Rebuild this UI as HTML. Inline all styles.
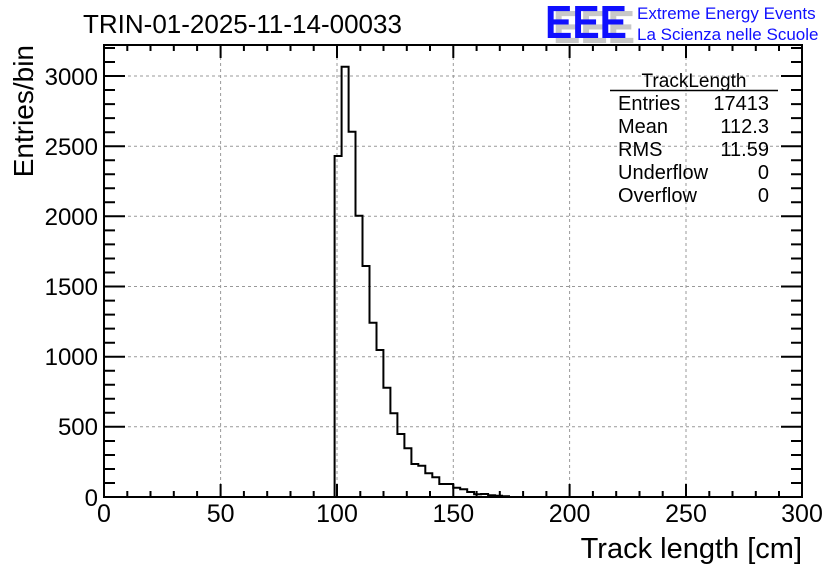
<!DOCTYPE html>
<html><head><meta charset="utf-8"><style>
html,body{margin:0;padding:0;background:#fff;}
svg{display:block;font-family:"Liberation Sans",sans-serif;}
</style></head><body>
<svg width="836" height="572" viewBox="0 0 836 572" xmlns="http://www.w3.org/2000/svg">
<rect width="836" height="572" fill="#fff"/>
<g stroke="#999" stroke-width="1" stroke-dasharray="3,3">
<line x1="220.6" y1="45" x2="220.6" y2="497"/>
<line x1="337" y1="45" x2="337" y2="497"/>
<line x1="453.3" y1="45" x2="453.3" y2="497"/>
<line x1="569.6" y1="45" x2="569.6" y2="497"/>
<line x1="686" y1="45" x2="686" y2="497"/>
<line x1="104" y1="76" x2="802" y2="76"/>
<line x1="104" y1="146.2" x2="802" y2="146.2"/>
<line x1="104" y1="216.3" x2="802" y2="216.3"/>
<line x1="104" y1="286.5" x2="802" y2="286.5"/>
<line x1="104" y1="356.7" x2="802" y2="356.7"/>
<line x1="104" y1="426.8" x2="802" y2="426.8"/>
</g>
<path fill="none" stroke="#000" stroke-width="2" d="M104,497 H334.6 V156 H341.6 V66.7 H348.6 V131.7 H355.5 V215.7 H362.5 V266 H369.5 V322.7 H376.5 V350 H383.4 V387.7 H390.4 V413.3 H397.4 V434 H404.4 V448.3 H411.4 V464 H418.3 V465.7 H425.3 V473.3 H432.3 V477.3 H439.3 V484 H453.2 V487.7 H460.2 V489.3 H467.2 V492 H474.1 V494.3 H481.1 V494 H488.1 V495.3 H495.1 V495.7 H502 V496.3 H509 V497 H802"/>
<rect x="104" y="45" width="698" height="452" fill="none" stroke="#000" stroke-width="2"/>
<g stroke="#000" stroke-width="2">
<path d="M104,497v-13M220.6,497v-13M337,497v-13M453.3,497v-13M569.6,497v-13M686,497v-13M802,497v-13
M104,45v13M220.6,45v13M337,45v13M453.3,45v13M569.6,45v13M686,45v13M802,45v13
M127.3,497v-6M150.5,497v-6M173.8,497v-6M197.1,497v-6M243.9,497v-6M267.2,497v-6M290.5,497v-6M313.7,497v-6M360.3,497v-6M383.5,497v-6M406.8,497v-6M430,497v-6M476.6,497v-6M499.8,497v-6M523.1,497v-6M546.4,497v-6M592.9,497v-6M616.2,497v-6M639.5,497v-6M662.7,497v-6M709.3,497v-6M732.5,497v-6M755.8,497v-6M779,497v-6
M127.3,45v6M150.5,45v6M173.8,45v6M197.1,45v6M243.9,45v6M267.2,45v6M290.5,45v6M313.7,45v6M360.3,45v6M383.5,45v6M406.8,45v6M430,45v6M476.6,45v6M499.8,45v6M523.1,45v6M546.4,45v6M592.9,45v6M616.2,45v6M639.5,45v6M662.7,45v6M709.3,45v6M732.5,45v6M755.8,45v6M779,45v6
M104,76h21M104,146.2h21M104,216.3h21M104,286.5h21M104,356.7h21M104,426.8h21
M802,76h-21M802,146.2h-21M802,216.3h-21M802,286.5h-21M802,356.7h-21M802,426.8h-21
M104,483h11M104,469h11M104,455h11M104,441h11M104,412.8h11M104,398.8h11M104,384.8h11M104,370.7h11M104,342.7h11M104,328.6h11M104,314.6h11M104,300.6h11M104,272.5h11M104,258.5h11M104,244.4h11M104,230.4h11M104,202.3h11M104,188.3h11M104,174.3h11M104,160.2h11M104,132.2h11M104,118.1h11M104,104.1h11M104,90h11M104,62h11M104,48h11
M802,483h-11M802,469h-11M802,455h-11M802,441h-11M802,412.8h-11M802,398.8h-11M802,384.8h-11M802,370.7h-11M802,342.7h-11M802,328.6h-11M802,314.6h-11M802,300.6h-11M802,272.5h-11M802,258.5h-11M802,244.4h-11M802,230.4h-11M802,202.3h-11M802,188.3h-11M802,174.3h-11M802,160.2h-11M802,132.2h-11M802,118.1h-11M802,104.1h-11M802,90h-11M802,62h-11M802,48h-11"/>
</g>
<g font-size="24" text-anchor="end" fill="#000">
<text x="98" y="85">3000</text>
<text x="98" y="155">2500</text>
<text x="98" y="225">2000</text>
<text x="98" y="295">1500</text>
<text x="98" y="365">1000</text>
<text x="98" y="435">500</text>
<text x="98" y="506">0</text>
</g>
<g font-size="25" text-anchor="middle" fill="#000">
<text x="104" y="522">0</text>
<text x="220.6" y="522">50</text>
<text x="337" y="522">100</text>
<text x="453.3" y="522">150</text>
<text x="569.6" y="522">200</text>
<text x="686" y="522">250</text>
<text x="802" y="522">300</text>
</g>
<text x="802" y="558" font-size="29" text-anchor="end">Track length [cm]</text>
<text transform="translate(33,45) rotate(-90)" font-size="28" text-anchor="end">Entries/bin</text>
<text x="83" y="33" font-size="26">TRIN-01-2025-11-14-00033</text>
<g font-size="46" font-weight="bold">
<text x="553" y="43" fill="#c8c8c8" textLength="82" lengthAdjust="spacingAndGlyphs">EEE</text>
<text x="545" y="38" fill="#1010ff" textLength="82" lengthAdjust="spacingAndGlyphs">EEE</text>
</g>
<text x="637" y="19" font-size="17" fill="#1010ff">Extreme Energy Events</text>
<text x="637" y="40" font-size="17" fill="#1010ff">La Scienza nelle Scuole</text>
<text x="694" y="87" font-size="19" text-anchor="middle">TrackLength</text>
<line x1="610" y1="90.5" x2="778" y2="90.5" stroke="#000" stroke-width="1.5"/>
<g font-size="20">
<text x="618" y="110">Entries</text><text x="769" y="110" text-anchor="end">17413</text>
<text x="618" y="133">Mean</text><text x="769" y="133" text-anchor="end">112.3</text>
<text x="618" y="156">RMS</text><text x="769" y="156" text-anchor="end">11.59</text>
<text x="618" y="179">Underflow</text><text x="769" y="179" text-anchor="end">0</text>
<text x="618" y="202">Overflow</text><text x="769" y="202" text-anchor="end">0</text>
</g>
</svg>
</body></html>
